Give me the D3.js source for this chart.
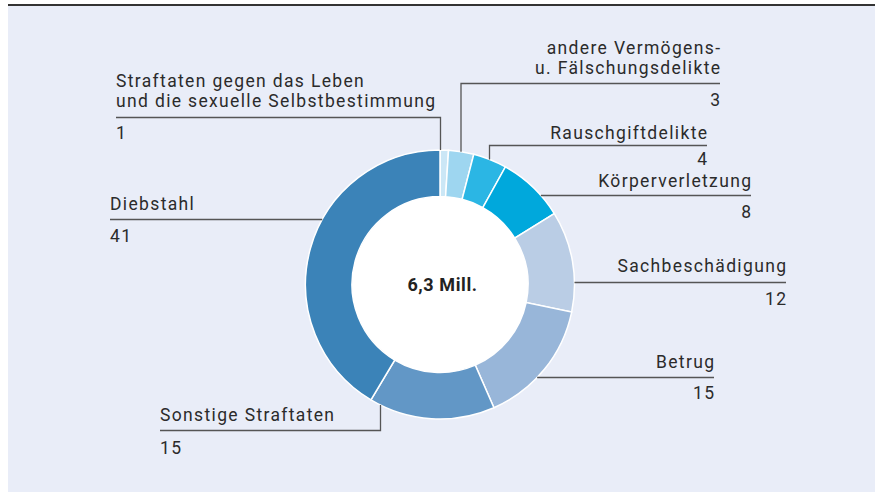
<!DOCTYPE html>
<html>
<head>
<meta charset="utf-8">
<script src="https://cdn.jsdelivr.net/npm/d3@7"></script>
<style>
  html, body { margin: 0; padding: 0; background: #fff; }
  svg { display: block; font-family: Roboto, "DejaVu Sans", sans-serif; }
</style>
</head>
<body>
<div id="chart"></div>
<script>
// Data
const categories = [
  "Straftaten gegen das Leben und die sexuelle Selbstbestimmung",
  "andere Vermögens- u. Fälschungsdelikte",
  "Rauschgiftdelikte",
  "Körperverletzung",
  "Sachbeschädigung",
  "Betrug",
  "Sonstige Straftaten",
  "Diebstahl"
];
const shares = [1, 3, 4, 8, 12, 15, 15, 41];
const colors = ["#cbe7f6", "#9ed6f0", "#2bb6e4", "#00a8dc", "#bacde5", "#98b6d9", "#6297c6", "#3b83b8"];
const totalLabel = "6,3 Mill.";

// label lines (text lines per slice)
const labelLines = [
  ["Straftaten gegen das Leben", "und die sexuelle Selbstbestimmung"],
  ["andere Vermögens-", "u. Fälschungsdelikte"],
  ["Rauschgiftdelikte"],
  ["Körperverletzung"],
  ["Sachbeschädigung"],
  ["Betrug"],
  ["Sonstige Straftaten"],
  ["Diebstahl"]
];

const width = 875, height = 493;
const cx = 440, cy = 284.5;
const outerR = 134.5, innerR = 88;

const svg = d3.select("#chart").append("svg")
  .attr("width", width)
  .attr("height", height);

// background panel
svg.append("rect")
  .attr("x", 8).attr("y", 5)
  .attr("width", width - 8).attr("height", 487)
  .attr("fill", "#e9edf8");
svg.append("line")
  .attr("x1", 8).attr("x2", width)
  .attr("y1", 5).attr("y2", 5)
  .attr("stroke", "#333").attr("stroke-width", 2);

const pie = d3.pie().sort(null).value(d => d);
const arcs = pie(shares);
const arc = d3.arc().innerRadius(innerR).outerRadius(outerR);

const g = svg.append("g").attr("transform", `translate(${cx},${cy})`);

g.append("circle").attr("r", innerR).attr("fill", "#fff");

g.selectAll("path.slice")
  .data(arcs)
  .enter().append("path")
  .attr("class", "slice")
  .attr("d", arc)
  .attr("fill", (d, i) => colors[i])
  .attr("stroke", "#fff")
  .attr("stroke-width", 1.5);

g.append("text")
  .attr("x", 2.5).attr("y", 6.5)
  .attr("text-anchor", "middle")
  .attr("font-size", 18)
  .attr("font-weight", "bold")
  .attr("letter-spacing", 0.6)
  .attr("fill", "#222")
  .text(totalLabel);

// x on the outer edge for given y, on left or right side
function edgeX(y, side) {
  const dy = y - cy;
  return cx + side * Math.sqrt(Math.max(0, outerR * outerR - dy * dy));
}

// label layout: lineY, text x/anchor, line extent, text/number offsets
const layout = [
  { lineY: 117.5, tx: 116, anchor: "start", vx: 440.5, to: -10.5, no: 21 },
  { lineY: 83.5, tx: 720, anchor: "end", vx: 461, to: -9.5, no: 22.5 },
  { lineY: 145.5, tx: 707, anchor: "end", vx: 489.5, to: -7, no: 19.5 },
  { lineY: 195.5, tx: 751, anchor: "end", side: 1, to: -9, no: 22 },
  { lineY: 282.5, tx: 786, anchor: "end", side: 1, to: -10.5, no: 22.5 },
  { lineY: 377.5, tx: 714, anchor: "end", side: 1, to: -9.5, no: 21 },
  { lineY: 430.5, tx: 160, anchor: "start", vx: 380.5, to: -9.5, no: 23 },
  { lineY: 219.5, tx: 110, anchor: "start", side: -1, to: -10, no: 22.5 }
];

const labels = svg.append("g");
const fs = 17.5, lh = 20, ls = 1.35;

layout.forEach((L, i) => {
  const lines = labelLines[i];
  let path;
  if (L.vx !== undefined) {
    const dx = L.vx - cx;
    const ey = L.lineY < cy
      ? cy - Math.sqrt(outerR * outerR - dx * dx)
      : cy + Math.sqrt(outerR * outerR - dx * dx);
    path = `M${L.tx},${L.lineY}H${L.vx}V${ey}`;
  } else {
    const ex = edgeX(L.lineY, L.side);
    path = `M${L.tx},${L.lineY}H${ex}`;
  }
  labels.append("path")
    .attr("d", path)
    .attr("fill", "none")
    .attr("stroke", "#555")
    .attr("stroke-width", 1.3);

  // end-anchored text: letter-spacing adds trailing space, shift right
  const shift = L.anchor === "end" ? ls : 0;
  const t = labels.append("text")
    .attr("text-anchor", L.anchor)
    .attr("font-size", fs)
    .attr("letter-spacing", ls)
    .attr("fill", "#2b2b2b");
  lines.forEach((s, k) => {
    t.append("tspan")
      .attr("x", L.tx + shift)
      .attr("y", L.lineY + L.to - (lines.length - 1 - k) * lh)
      .text(s);
  });
  labels.append("text")
    .attr("x", L.tx + shift)
    .attr("y", L.lineY + L.no)
    .attr("text-anchor", L.anchor)
    .attr("font-size", fs)
    .attr("letter-spacing", ls)
    .attr("fill", "#2b2b2b")
    .text(shares[i]);
});
</script>
</body>
</html>
